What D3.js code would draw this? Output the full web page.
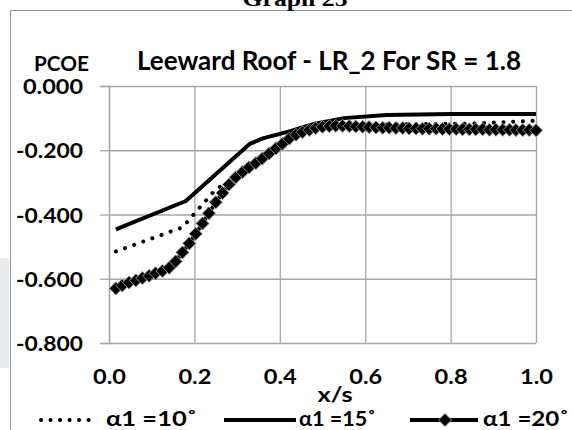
<!DOCTYPE html>
<html>
<head>
<meta charset="utf-8">
<script src="https://cdn.jsdelivr.net/npm/d3@7"></script>
<style>
  body { margin: 0; background: white; }
  text { font-family: Lato, 'Noto Sans', sans-serif; font-weight: bold; fill: #000; }
</style>
</head>
<body>
<div id="chart"></div>
<script>
// DATA
const xTicks = [0, 0.2, 0.4, 0.6, 0.8, 1.0];
const xTickLabels = ['0.0', '0.2', '0.4', '0.6', '0.8', '1.0'];
const yTicks = [0, -0.2, -0.4, -0.6, -0.8];
const yTickLabels = ['0.000', '-0.200', '-0.400', '-0.600', '-0.800'];
const seriesNames = ['\u03b11 =10\u02da', '\u03b11 =15\u02da', '\u03b11 =20\u02da'];

// alpha1 = 10 (dotted)
const xs10 = [0.016, 0.172, 0.25, 0.27, 0.30, 0.35, 0.40, 0.45, 0.50, 0.60, 0.85, 1.0];
const ys10 = [-0.515, -0.440, -0.322, -0.305, -0.280, -0.232, -0.187, -0.148, -0.128, -0.120, -0.117, -0.108];

// alpha1 = 15 (solid)
const xs15 = [0.016, 0.18, 0.33, 0.36, 0.42, 0.48, 0.55, 0.65, 0.80, 1.0];
const ys15 = [-0.446, -0.358, -0.180, -0.163, -0.142, -0.118, -0.100, -0.090, -0.087, -0.087];

// alpha1 = 20 (diamonds)
const xs20 = [0.016, 0.031, 0.047, 0.063, 0.078, 0.094, 0.109, 0.125, 0.141, 0.156,
              0.172, 0.188, 0.203, 0.219, 0.234, 0.250, 0.266, 0.281, 0.297, 0.313,
              0.328, 0.344, 0.359, 0.375, 0.391, 0.406, 0.422, 0.438, 0.453, 0.469,
              0.484, 0.500, 0.516, 0.531, 0.547, 0.563, 0.578, 0.594, 0.609, 0.625,
              0.641, 0.656, 0.672, 0.688, 0.703, 0.719, 0.734, 0.750, 0.766, 0.781,
              0.797, 0.813, 0.828, 0.844, 0.859, 0.875, 0.891, 0.906, 0.922, 0.938,
              0.953, 0.969, 0.984, 1.000];
const ys20 = [-0.630, -0.621, -0.612, -0.605, -0.598, -0.591, -0.583, -0.576, -0.566, -0.546,
              -0.518, -0.490, -0.460, -0.428, -0.396, -0.362, -0.333, -0.307, -0.284, -0.268,
              -0.253, -0.240, -0.226, -0.210, -0.194, -0.180, -0.164, -0.152, -0.144, -0.137,
              -0.131, -0.127, -0.125, -0.124, -0.124, -0.125, -0.126, -0.127, -0.128, -0.129,
              -0.130, -0.130, -0.131, -0.131, -0.132, -0.132, -0.133, -0.133, -0.133, -0.134,
              -0.134, -0.134, -0.135, -0.135, -0.135, -0.135, -0.136, -0.136, -0.136, -0.136,
              -0.137, -0.137, -0.137, -0.138];

// DIMENSIONS
const width = 572, height = 430;
const plotL = 109, plotR = 536, plotT = 86, plotB = 343;

// stretch text to a measured width
const fit = (sel, w) => sel.attr('textLength', w).attr('lengthAdjust', 'spacingAndGlyphs');

const svg = d3.select('#chart')
    .append('svg')
    .attr('width', width)
    .attr('height', height)
    .style('display', 'block')
    .style('background', 'white');

// faint block at far left
svg.append('rect')
    .attr('x', 0).attr('y', 258).attr('width', 9).attr('height', 110)
    .attr('fill', '#e8ecef');

// chart frame
svg.append('rect')
    .attr('x', 10.5).attr('y', 10.5).attr('width', 580).attr('height', 440)
    .attr('fill', 'none').attr('stroke', '#9a9a9a').attr('stroke-width', 1);

// page heading (clipped at top)
fit(svg.append('text')
    .text('Graph 25')
    .attr('x', 295).attr('y', 6)
    .attr('text-anchor', 'middle')
    .style('font-family', "'Liberation Serif', serif")
    .style('font-size', '22px'), 105);

// SCALES
const xScale = d3.scaleLinear().domain([0, 1]).range([plotL, plotR]);
const yScale = d3.scaleLinear().domain([-0.8, 0]).range([plotB, plotT]);

// GRID
svg.append('g')
    .attr('transform', `translate(${plotL},0)`)
    .call(d3.axisLeft(yScale).tickValues(yTicks).tickSize(-(plotR - plotL)).tickFormat(''))
    .call(g => g.select('.domain').remove())
    .call(g => g.selectAll('line').attr('stroke', '#a6a6a6').attr('stroke-width', 1.3));

svg.append('g')
    .attr('transform', `translate(0,${plotT})`)
    .call(d3.axisBottom(xScale).tickValues(xTicks).tickSize(plotB - plotT).tickFormat(''))
    .call(g => g.select('.domain').remove())
    .call(g => g.selectAll('line').attr('stroke', '#a6a6a6').attr('stroke-width', 1.3));

// Y AXIS
const yAxis = svg.append('g')
    .attr('transform', `translate(${plotL},0)`)
    .call(d3.axisLeft(yScale).tickValues(yTicks).tickSize(9).tickPadding(17)
        .tickFormat((d, i) => yTickLabels[i]));
yAxis.select('.domain').attr('stroke', '#a6a6a6').attr('stroke-width', 1.3);
yAxis.selectAll('line').attr('stroke', '#a6a6a6').attr('stroke-width', 1.3);
yAxis.selectAll('text')
    .style('font-size', '21px')
    .attr('dy', '0.36em')
    .each(function () { fit(d3.select(this), this.textContent.length === 5 ? 60 : 67); });

// X AXIS
const xAxis = svg.append('g')
    .attr('transform', `translate(0,${plotB})`)
    .call(d3.axisBottom(xScale).tickValues(xTicks).tickSize(0).tickPadding(0)
        .tickFormat((d, i) => xTickLabels[i]));
xAxis.select('.domain').remove();
xAxis.selectAll('text')
    .style('font-size', '21px')
    .attr('y', 41).attr('dy', null)
    .each(function () { fit(d3.select(this), 33); });

// AXIS TITLES
fit(svg.append('text')
    .text('PCOE')
    .attr('x', 89).attr('y', 71)
    .attr('text-anchor', 'end')
    .style('font-size', '21px'), 55);

fit(svg.append('text')
    .text('x/s')
    .attr('x', 335).attr('y', 402)
    .attr('text-anchor', 'middle')
    .style('font-size', '21px'), 35);

fit(svg.append('text')
    .text('Leeward Roof - LR_2 For SR = 1.8')
    .attr('x', 329).attr('y', 70)
    .attr('text-anchor', 'middle')
    .style('font-size', '26px'), 384);

// LINES
const lineGen = d3.line().x(d => xScale(d[0])).y(d => yScale(d[1]));

svg.append('path')
    .datum(xs10.map((x, i) => [x, ys10[i]]))
    .attr('d', lineGen)
    .attr('fill', 'none')
    .attr('stroke', '#000')
    .attr('stroke-width', 4)
    .attr('stroke-linecap', 'round')
    .attr('stroke-dasharray', '0.1 9.6');

svg.append('path')
    .datum(xs15.map((x, i) => [x, ys15[i]]))
    .attr('d', lineGen)
    .attr('fill', 'none')
    .attr('stroke', '#000')
    .attr('stroke-width', 4)
    .attr('stroke-linejoin', 'round');

const pts20 = xs20.map((x, i) => [x, ys20[i]]);
svg.append('path')
    .datum(pts20)
    .attr('d', lineGen)
    .attr('fill', 'none')
    .attr('stroke', '#000')
    .attr('stroke-width', 4)
    .attr('stroke-linejoin', 'round');

const diamond = r => `M0,${-r}L${r},0L0,${r}L${-r},0Z`;
svg.append('g')
    .selectAll('path')
    .data(pts20)
    .enter()
    .append('path')
    .attr('d', diamond(6.5))
    .attr('transform', d => `translate(${xScale(d[0])},${yScale(d[1])})`)
    .attr('fill', '#000')
    .attr('stroke', '#8c8c8c')
    .attr('stroke-width', 1);

// LEGEND
const legY = 420, legBase = 426;
svg.append('line')
    .attr('x1', 41).attr('x2', 97).attr('y1', legY).attr('y2', legY)
    .attr('stroke', '#000').attr('stroke-width', 4)
    .attr('stroke-linecap', 'round').attr('stroke-dasharray', '0.1 9.4');
svg.append('line')
    .attr('x1', 224).attr('x2', 296).attr('y1', legY).attr('y2', legY)
    .attr('stroke', '#000').attr('stroke-width', 4);
svg.append('line')
    .attr('x1', 410).attr('x2', 478).attr('y1', legY).attr('y2', legY)
    .attr('stroke', '#000').attr('stroke-width', 4);
svg.append('path')
    .attr('d', diamond(6.5))
    .attr('transform', `translate(445,${legY})`)
    .attr('fill', '#000').attr('stroke', '#8c8c8c').attr('stroke-width', 1);

const legX = [106, 299, 483];
const legW = [91, 77, 86];
seriesNames.forEach((name, i) => {
    fit(svg.append('text')
        .text(name)
        .attr('x', legX[i]).attr('y', legBase)
        .style('font-size', '21px'), legW[i]);
});
</script>
</body>
</html>
